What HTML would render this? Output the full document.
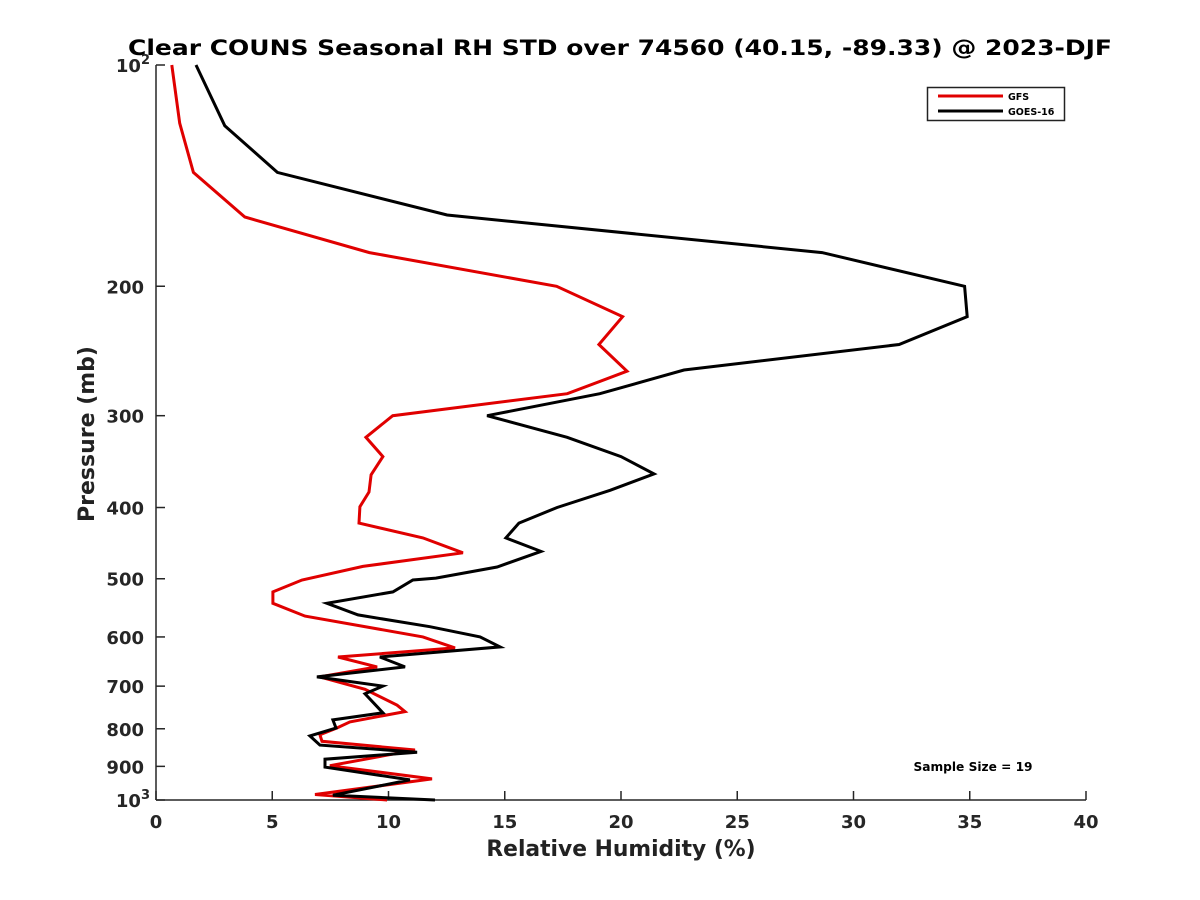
<!DOCTYPE html>
<html><head><meta charset="utf-8"><style>
body{margin:0;background:#fff;}
svg{display:block;font-family:"DejaVu Sans","Liberation Sans",sans-serif;}
</style></head><body>
<svg id="chart" width="1200" height="900" viewBox="0 0 1200 900">
<text x="620" y="55" text-anchor="middle" font-size="21" font-weight="bold" fill="#000" textLength="984" lengthAdjust="spacingAndGlyphs">Clear COUNS Seasonal RH STD over 74560 (40.15, -89.33) @ 2023-DJF</text>
<g id="axes"></g>
<g id="series"></g>
<g>
<rect x="927.5" y="87.5" width="137" height="33" fill="#fff" stroke="#222" stroke-width="1.5"/>
<line x1="938" y1="96" x2="1003" y2="96" stroke="#e00000" stroke-width="3"/>
<text x="1008" y="100" font-size="9.5" font-weight="bold">GFS</text>
<line x1="938" y1="111" x2="1003" y2="111" stroke="#000" stroke-width="3"/>
<text x="1008" y="115" font-size="9.5" font-weight="bold">GOES-16</text>
</g>
<text x="973" y="771" text-anchor="middle" font-size="12.2" font-weight="bold">Sample Size = 19</text>
<text x="621" y="856" text-anchor="middle" font-size="21.8" font-weight="bold" fill="#222">Relative Humidity (%)</text>
<text transform="translate(94,434) rotate(-90)" text-anchor="middle" font-size="22" font-weight="bold" fill="#222">Pressure (mb)</text>
</svg>
<script>
const xTicks=[0,5,10,15,20,25,30,35,40];
const yTicks=[100,200,300,400,500,600,700,800,900,1000];
const gfsPressure=[100,120,140,161,180,200,220,240,261,280,300,321,341,361,381,399,420,440,461,481,502,521,540,562,600,621,639,659,680,707,743,758,783,798,815,832,855,898,936,983,1000];
const gfsRH=[0.68,1.02,1.61,3.82,9.18,17.23,20.07,19.05,20.26,17.69,10.18,9.03,9.76,9.25,9.16,8.77,8.73,11.48,13.20,8.90,6.28,5.03,5.03,6.41,11.48,12.86,7.83,9.51,7.05,8.99,10.37,10.71,8.34,7.78,7.05,7.14,11.14,7.48,11.87,6.84,9.94];
const goesPressure=[100,121,140,160,180,200,220,240,260,280,300,321,341,360,379,400,420,440,459,482,499,502,521,540,560,581,600,619,639,659,680,700,717,761,778,798,818,842,861,880,902,939,985,1000];
const goesRH=[1.72,2.96,5.22,12.52,28.65,34.78,34.89,31.96,22.71,19.09,14.24,17.68,20.0,21.42,19.53,17.25,15.61,15.05,16.56,14.67,12.04,11.05,10.19,7.35,8.69,11.78,13.94,14.80,9.63,10.71,6.92,9.76,8.99,9.76,7.61,7.74,6.62,7.05,11.23,7.27,7.27,10.92,7.61,12.0];

const NS="http://www.w3.org/2000/svg";
const X0=156,X1=1086,Y0=65,Y1=800;
const xs=v=>X0+(v/40)*(X1-X0);
const ys=p=>Y0+Math.log10(p/100)*(Y1-Y0);
const axes=document.getElementById('axes');
const ser=document.getElementById('series');
function mk(t,a,parent){const e=document.createElementNS(NS,t);for(const k in a)e.setAttribute(k,a[k]);parent.appendChild(e);return e;}

let l=mk('line',{x1:X0,y1:Y0,x2:X0,y2:Y1,stroke:'#262626','stroke-width':1.5},axes);


l=mk('line',{x1:X0,y1:Y1,x2:X1,y2:Y1,stroke:'#262626','stroke-width':1.5},axes);



xTicks.forEach(v=>{
  const t=mk('line',{x1:xs(v),y1:Y1,x2:xs(v),y2:Y1-9,stroke:'#262626','stroke-width':1.5},axes);
  
  
  const tx=mk('text',{x:xs(v),y:Y1+28,'text-anchor':'middle','font-size':18,'font-weight':'bold',fill:'#262626'},axes);
  tx.textContent=String(v);
  
  
});
yTicks.forEach(p=>{
  const y=ys(p);
  const t=mk('line',{x1:X0,y1:y,x2:X0+9,y2:y,stroke:'#262626','stroke-width':1.5},axes);
  
  
  const tx=mk('text',{x:X0-12,y:y+7,'text-anchor':'end','font-size':18,'font-weight':'bold',fill:'#262626'},axes);
  if(p===100||p===1000){
    tx.textContent='10';
    const s=mk('tspan',{dy:-8,'font-size':13},tx);
    s.textContent=p===100?'2':'3';
    tx.setAttribute('x',X0-6);
  } else tx.textContent=String(p);
  
  
});

function line(P,V,color,name){
  const d=P.map((p,i)=>(i?'L':'M')+xs(V[i]).toFixed(1)+','+ys(p).toFixed(1)).join('');
  const e=mk('path',{d:d,fill:'none',stroke:color,'stroke-width':3,'stroke-linejoin':'miter'},ser);
  
  
}
line(gfsPressure,gfsRH,'#e00000','gfs-line');
line(goesPressure,goesRH,'#000','goes16-line');
</script>
</body></html>
